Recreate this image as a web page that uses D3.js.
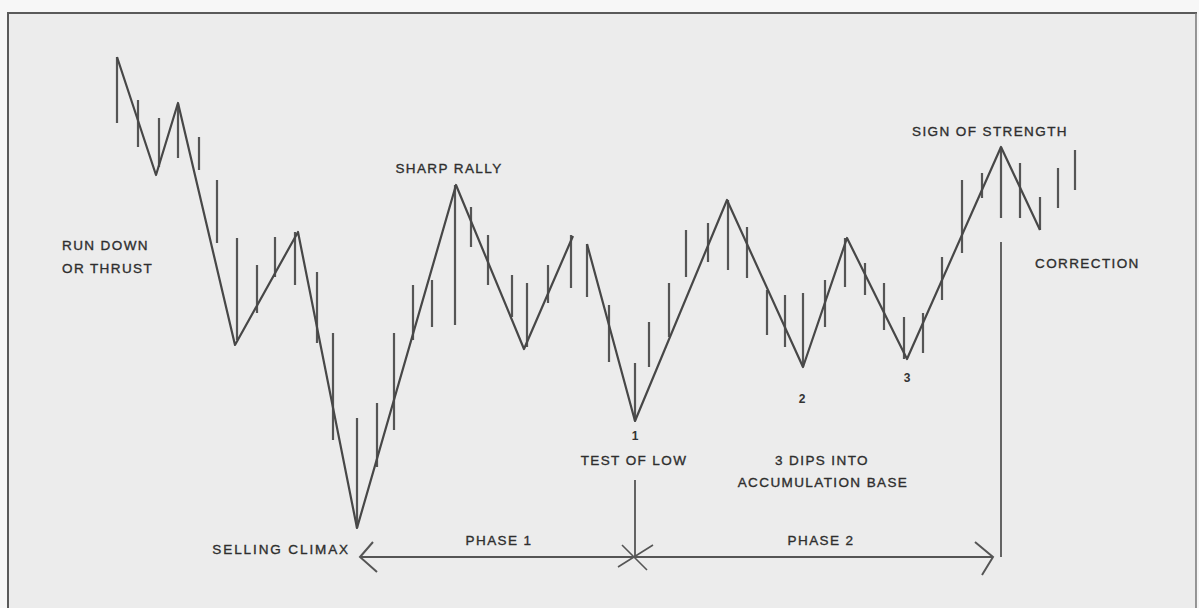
<!DOCTYPE html>
<html><head><meta charset="utf-8">
<script src="https://cdn.jsdelivr.net/npm/d3@7"></script>
<style>html,body{margin:0;padding:0;background:#f7f7f7;} svg{display:block}</style>
</head><body><svg id="c" width="1199" height="608"></svg>
<script>
// ---- Data (time in sessions, price in points) ----
const swingT = [1.7, 5.6, 7.8, 13.5, 19.8, 25.7, 35.6, 42.4, 47.3, null, 48.7, 53.5, 62.7, 70.3, 74.7, 80.7, 90.1, 94.0];
const swingP = [54.3, 42.5, 49.7, 25.5, 36.8, 7.2, 41.5, 25.1, 36.4, null, 35.6, 17.9, 40.0, 23.3, 36.2, 24.1, 45.3, 37.0];

const barT    = [1.7, 3.8, 5.9, 7.8, 9.9, 11.7, 13.7, 15.7, 17.5, 19.5, 21.7, 23.3, 25.7, 27.7, 29.4, 31.3, 33.2, 35.5, 37.1, 38.8, 41.2, 42.7, 44.8, 47.1, 48.7, 50.9, 53.5, 54.9, 56.9, 58.6, 60.8, 62.8, 64.7, 66.7, 68.5, 70.3, 72.5, 74.5, 76.5, 78.4, 80.4, 82.3, 84.2, 86.2, 88.2, 90.1, 92.0, 94.0, 95.8, 97.5];
const barHigh = [54.3, 50.0, 48.2, 49.6, 46.3, 42.0, 36.2, 33.5, 36.3, 36.8, 32.8, 26.7, 18.2, 19.7, 26.7, 31.5, 32.0, 41.5, 39.3, 36.5, 32.5, 31.7, 33.5, 36.5, 35.6, 29.5, 23.7, 27.8, 31.7, 37.0, 37.7, 40.0, 37.3, 31.0, 30.5, 30.7, 32.0, 36.2, 33.7, 31.7, 28.3, 28.7, 34.3, 42.0, 42.7, 45.3, 43.7, 40.3, 43.2, 45.0];
const barLow  = [47.7, 45.3, 43.3, 44.2, 43.0, 35.7, 26.0, 28.7, 32.3, 31.5, 25.7, 16.0, 7.2, 13.3, 17.0, 26.0, 27.3, 27.5, 35.3, 31.5, 28.3, 25.3, 29.7, 31.2, 30.3, 23.8, 17.9, 23.3, 26.3, 32.3, 33.8, 33.0, 32.2, 26.5, 25.3, 23.3, 27.3, 31.3, 30.5, 27.0, 24.1, 24.7, 30.0, 34.7, 40.2, 38.2, 38.2, 37.0, 39.2, 41.0];

const labelText = ["RUN DOWN", "OR THRUST", "SHARP RALLY", "SIGN OF STRENGTH", "CORRECTION", "TEST OF LOW", "3 DIPS INTO", "ACCUMULATION BASE", "PHASE 1", "PHASE 2", "SELLING CLIMAX"];
const labelT    = [-3.8, -3.8, 34.9, 89.0, 93.5, 53.4, 72.2, 72.3, 39.9, 72.1, 25.0];
const labelP    = [35.5, 33.2, 43.2, 46.9, 33.7, 14.0, 14.0, 11.8, 6.0, 6.0, 5.1];
const labelAnchor = ["start", "start", "middle", "middle", "start", "middle", "middle", "middle", "middle", "middle", "end"];

const dipText = ["1", "2", "3"];
const dipT = [53.5, 70.2, 80.7];
const dipP = [16.4, 20.1, 22.2];

const phaseP = 4.3;
const phaseStartT = 26.0, phaseMidT = 53.5, phaseEndT = 89.3;
const markerT = [53.5, 90.1];
const markerTopP = [12.0, 35.8];

// ---- Scales ----
const W = 1199, H = 608;
const x = d3.scaleLinear().domain([0, 110]).range([100, 1200]);
const y = d3.scaleLinear().domain([0, 60]).range([600, 0]);

const svg = d3.select("#c");
const ink = "#474747";

// frame
svg.append("rect").attr("x", 8).attr("y", 13).attr("width", 1188).attr("height", H).attr("fill", "#ececec");
svg.append("line").attr("x1", 7).attr("x2", 1197).attr("y1", 13).attr("y2", 13).attr("stroke", "#5a5a5a").attr("stroke-width", 2);
svg.append("line").attr("x1", 8).attr("x2", 8).attr("y1", 13).attr("y2", H).attr("stroke", "#5a5a5a").attr("stroke-width", 2);
svg.append("line").attr("x1", 1196).attr("x2", 1196).attr("y1", 13).attr("y2", H).attr("stroke", "#777").attr("stroke-width", 1.5);

// bars
svg.append("g").selectAll("line").data(barT).join("line")
  .attr("x1", d => x(d)).attr("x2", d => x(d))
  .attr("y1", (d, i) => y(barHigh[i])).attr("y2", (d, i) => y(barLow[i]))
  .attr("stroke", "#555").attr("stroke-width", 2.2);

// swing line
const swing = swingT.map((t, i) => ({t, p: swingP[i]}));
const line = d3.line().defined(d => d.p != null).x(d => x(d.t)).y(d => y(d.p));
svg.append("path").datum(swing).attr("d", line).attr("fill", "none")
  .attr("stroke", ink).attr("stroke-width", 2.2).attr("stroke-linejoin", "round");

// phase line with arrows
const py = y(phaseP);
svg.append("line").attr("x1", x(phaseStartT)).attr("x2", x(phaseEndT)).attr("y1", py).attr("y2", py)
  .attr("stroke", "#555").attr("stroke-width", 2);
const xs = x(phaseStartT), xe = x(phaseEndT), xm = x(phaseMidT);
svg.append("path").attr("d", `M${xs+13},${py-15}L${xs},${py}L${xs+17},${py+15}`)
  .attr("fill", "none").attr("stroke", "#555").attr("stroke-width", 2);
svg.append("path").attr("d", `M${xe-18},${py-15}L${xe},${py}L${xe-11},${py+18}`)
  .attr("fill", "none").attr("stroke", "#555").attr("stroke-width", 2);
svg.append("path").attr("d", `M${xm-17},${py+10}L${xm+18},${py-12}M${xm-13},${py-12}L${xm+12},${py+13}`)
  .attr("fill", "none").attr("stroke", "#555").attr("stroke-width", 1.6);

// markers
svg.append("g").selectAll("line").data(markerT).join("line")
  .attr("x1", d => x(d)).attr("x2", d => x(d))
  .attr("y1", (d, i) => y(markerTopP[i])).attr("y2", py)
  .attr("stroke", "#555").attr("stroke-width", 1.8);

// labels
svg.append("g").selectAll("text").data(labelText).join("text")
  .attr("x", (d, i) => x(labelT[i])).attr("y", (d, i) => y(labelP[i]))
  .attr("text-anchor", (d, i) => labelAnchor[i])
  .attr("dominant-baseline", "central")
  .attr("font-family", "Liberation Sans, Arial, sans-serif")
  .attr("font-size", 13.5).attr("letter-spacing", (d, i) => i === 10 ? 1.9 : 1.4)
  .attr("fill", "#2e2e2e").attr("stroke", "#2e2e2e").attr("stroke-width", 0.35)
  .text(d => d);

svg.append("g").selectAll("text").data(dipText).join("text")
  .attr("x", (d, i) => x(dipT[i])).attr("y", (d, i) => y(dipP[i]))
  .attr("text-anchor", "middle").attr("dominant-baseline", "central")
  .attr("font-family", "Liberation Sans, Arial, sans-serif")
  .attr("font-size", 12).attr("font-weight", "bold")
  .attr("fill", "#333").text(d => d);
</script>
</body></html>
